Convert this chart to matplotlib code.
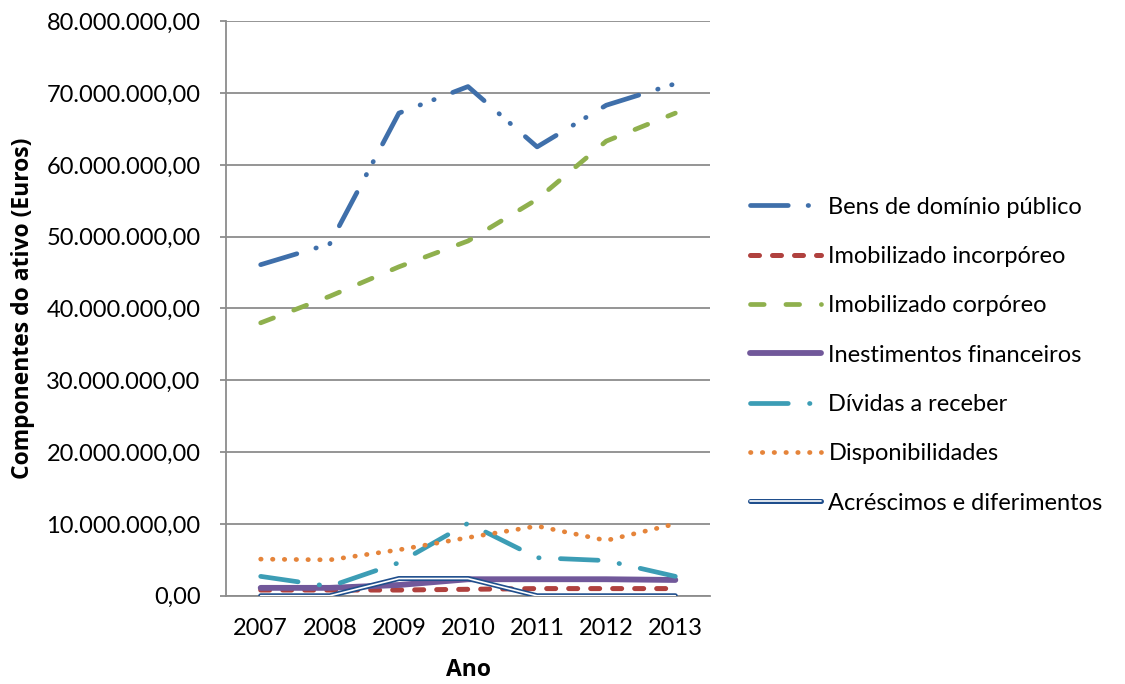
import matplotlib
matplotlib.use("Agg")

import matplotlib.pyplot as plt
import matplotlib.patheffects as pe
from matplotlib.ticker import FuncFormatter

# ---------- DATA ----------
anos = ["2007", "2008", "2009", "2010", "2011", "2012", "2013"]

bens_dominio_publico = [46.1e6, 49.0e6, 67.2e6, 70.9e6, 62.5e6, 68.3e6, 71.3e6]
imob_incorporeo = [0.8e6, 0.8e6, 0.8e6, 0.9e6, 1.0e6, 1.0e6, 1.0e6]
imob_corporeo = [38.0e6, 41.7e6, 45.8e6, 49.4e6, 55.2e6, 63.3e6, 67.2e6]
investimentos_fin = [1.1e6, 1.1e6, 1.5e6, 2.3e6, 2.3e6, 2.3e6, 2.2e6]
dividas_receber = [2.7e6, 1.3e6, 4.6e6, 10.1e6, 5.3e6, 4.9e6, 2.7e6]
disponibilidades = [5.1e6, 5.0e6, 6.4e6, 8.1e6, 9.7e6, 7.7e6, 10.0e6]
acrescimos_dif = [0.0, 0.0, 2.4e6, 2.4e6, 0.0, 0.0, 0.0]

labels = ["Bens de domínio público", "Imobilizado incorpóreo", "Imobilizado corpóreo",
          "Inestimentos financeiros", "Dívidas a receber", "Disponibilidades",
          "Acréscimos e diferimentos"]

# ---------- THEME ----------
FONT = "Lato"
GRID = "#8c8c8c"
FS = 17

plt.rcParams["font.family"] = [FONT, "DejaVu Sans"]

fig = plt.figure(figsize=(11.25, 6.84), dpi=100)
ax = fig.add_axes([0.201, 0.129, 0.430, 0.840])

x = range(len(anos))

ax.plot(x, bens_dominio_publico, color="#3F6FAA", lw=3.4, dash_capstyle="round",
        dashes=(8.0, 4.2, 0.1, 3.0, 0.1, 4.2), label=labels[0], zorder=3)
ax.plot(x, imob_incorporeo, color="#B0413E", lw=3.6, dash_capstyle="round",
        dashes=(1.8, 2.6), label=labels[1], zorder=3)
ax.plot(x, imob_corporeo, color="#8FB04D", lw=3.4, dash_capstyle="round",
        dashes=(2.9, 4.6), label=labels[2], zorder=3)
ax.plot(x, investimentos_fin, color="#71589A", lw=4.2, solid_capstyle="round",
        label=labels[3], zorder=3)
ax.plot(x, dividas_receber, color="#3C9DB5", lw=3.4, dash_capstyle="round",
        dashes=(8.0, 4.5, 0.1, 4.5), label=labels[4], zorder=3)
ax.plot(x, disponibilidades, color="#E5843A", lw=3.4, dash_capstyle="round",
        dashes=(0.1, 2.4), label=labels[5], zorder=3)
ax.plot(x, acrescimos_dif, color="white", lw=1.2, solid_capstyle="round",
        label=labels[6], zorder=4,
        path_effects=[pe.Stroke(linewidth=3.6, foreground="#1F4E8C"), pe.Normal()])

# ---------- AXES ----------
ax.set_xlim(-0.5, len(anos) - 0.5)
ax.set_ylim(0, 80e6)
ax.set_yticks([i * 10e6 for i in range(9)])
ax.yaxis.set_major_formatter(FuncFormatter(
    lambda v, p: "{:,.2f}".format(v).replace(",", "X").replace(".", ",").replace("X", ".")))
ax.set_xticks(list(x))
ax.set_xticklabels(anos)

ax.grid(axis="y", color=GRID, lw=1.3, zorder=0)
ax.set_axisbelow(True)
for s in ["top", "right"]:
    ax.spines[s].set_visible(False)
ax.spines["left"].set_color(GRID)
ax.spines["left"].set_linewidth(1.3)
ax.spines["bottom"].set_color(GRID)
ax.spines["bottom"].set_linewidth(1.3)

ax.tick_params(axis="y", length=4.5, width=1.3, color=GRID, pad=14, labelsize=FS)
ax.tick_params(axis="x", length=0, pad=16, labelsize=FS)

ax.set_xlabel("Ano", fontsize=16.5, fontweight="bold", family="Open Sans", labelpad=14)
ax.set_ylabel("Componentes do ativo (Euros)", fontsize=16.5, fontweight="bold",
              family="Open Sans", labelpad=8)

leg = ax.legend(loc="center left", bbox_to_anchor=(1.04, 0.419), frameon=False,
                fontsize=FS, handlelength=3.0, handletextpad=0.3, labelspacing=1.2)

fig.savefig("out.png", dpi=100)
